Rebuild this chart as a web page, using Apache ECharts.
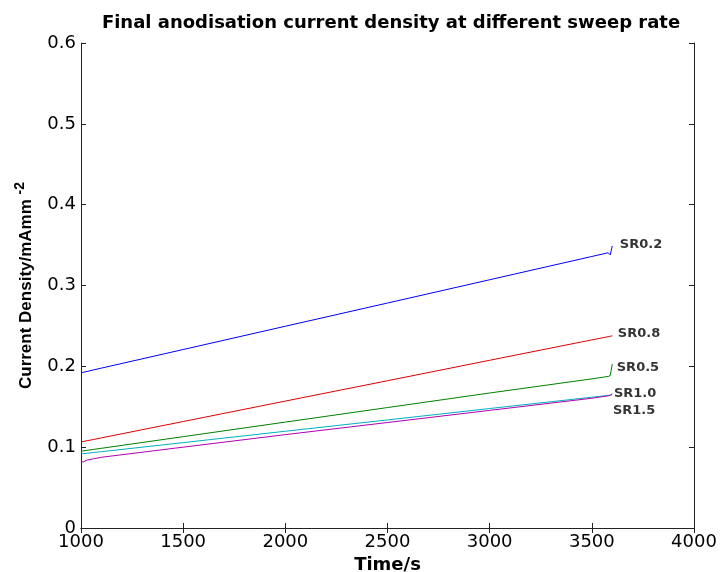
<!DOCTYPE html>
<html>
<head>
<meta charset="utf-8">
<script src="https://cdn.jsdelivr.net/npm/echarts@6/dist/echarts.min.js"></script>
<style>
    html, body { margin: 0; padding: 0; background: #fff; }
    #chart { width: 721px; height: 572px; }
</style>
</head>
<body>
<div id="chart"></div>
<script>
// sample times (s)
var times = [1000, 1010, 1030, 1060, 1100, 1500, 2000, 2500, 3000, 3500, 3580, 3590, 3600];

// current density (mA/mm^2) per sweep rate
var sr02 = [0.192, 0.1926, 0.1937, 0.1955, 0.1978, 0.2208, 0.2496, 0.2783, 0.3071, 0.3359, 0.3405, 0.3378, 0.349];
var sr08 = [0.1064, 0.107, 0.108, 0.1094, 0.1115, 0.1317, 0.157, 0.1822, 0.2075, 0.2327, 0.2367, 0.2372, 0.2378];
var sr05 = [0.095, 0.0954, 0.0961, 0.0972, 0.0986, 0.113, 0.131, 0.149, 0.167, 0.1845, 0.1875, 0.1885, 0.203];
var sr10 = [0.0916, 0.0919, 0.0924, 0.0933, 0.0944, 0.1056, 0.1197, 0.1337, 0.1478, 0.1618, 0.164, 0.1643, 0.1648];
var sr15 = [0.083, 0.0815, 0.084, 0.0855, 0.0875, 0.1, 0.1155, 0.1305, 0.1455, 0.1605, 0.1635, 0.1642, 0.166];

// end labels
var labelNames = ['SR0.2', 'SR0.8', 'SR0.5', 'SR1.0', 'SR1.5'];
var labelTimes = [3637, 3627, 3622, 3608, 3603];
var labelValues = [0.350, 0.241, 0.198, 0.166, 0.145];

var xTicks = [1000, 1500, 2000, 2500, 3000, 3500, 4000];
var yTicks = [0, 0.1, 0.2, 0.3, 0.4, 0.5, 0.6];

function pairs(vals) {
    return times.map(function (t, i) { return [t, vals[i]]; });
}

var chart = echarts.init(document.getElementById('chart'));

function line(name, color, vals) {
    return {
        name: name,
        type: 'line',
        data: pairs(vals),
        symbol: 'none',
        lineStyle: { color: color, width: 1 },
        itemStyle: { color: color },
        animation: false,
        z: 3
    };
}

var axisText = { fontFamily: 'DejaVu Sans', fontSize: 18, color: '#000' };
var axisColor = '#222';

var option = {
    backgroundColor: '#fff',
    title: {
        text: 'Final anodisation current density at different sweep rate',
        left: 386,
        textAlign: 'center',
        top: 9,
        textStyle: { fontFamily: 'DejaVu Sans', fontWeight: 'bold', fontSize: 18, color: '#000' }
    },
    grid: { left: 81, right: 27, top: 43, bottom: 44, outerBoundsMode: 'none', containLabel: false },
    xAxis: [
        {
            type: 'value',
            min: xTicks[0],
            max: xTicks[xTicks.length - 1],
            interval: 500,
            name: 'Time/s',
            nameLocation: 'middle',
            nameGap: 21,
            nameTextStyle: { fontFamily: 'DejaVu Sans', fontWeight: 'bold', fontSize: 18, color: '#000' },
            axisLine: { lineStyle: { color: axisColor, width: 1 } },
            axisTick: { inside: true, length: 5, lineStyle: { color: axisColor } },
            axisLabel: Object.assign({ margin: 5, formatter: function (v) { return String(v); } }, axisText),
            splitLine: { show: false }
        },
        {
            type: 'value',
            position: 'top',
            min: xTicks[0],
            max: xTicks[xTicks.length - 1],
            interval: 500,
            axisLine: { show: true, lineStyle: { color: axisColor, width: 1 } },
            axisTick: { inside: true, length: 5, lineStyle: { color: axisColor } },
            axisLabel: { show: false },
            splitLine: { show: false }
        }
    ],
    yAxis: [
        {
            type: 'value',
            min: yTicks[0],
            max: yTicks[yTicks.length - 1],
            interval: 0.1,
            name: '{a|Current Density/mAmm }{s|-2}',
            nameLocation: 'middle',
            nameRotate: 90,
            nameGap: 42,
            nameTextStyle: {
                rich: {
                    a: { fontFamily: 'Liberation Sans', fontWeight: 'bold', fontSize: 17, color: '#000', lineHeight: 20 },
                    s: { fontFamily: 'Liberation Sans', fontWeight: 'bold', fontSize: 14, color: '#000', padding: [0, 0, 12, 0] }
                }
            },
            axisLine: { show: true, lineStyle: { color: axisColor, width: 1 } },
            axisTick: { show: true, inside: true, length: 5, lineStyle: { color: axisColor } },
            axisLabel: Object.assign({ margin: 5, formatter: function (v) { return v === 0 ? '0' : v.toFixed(1); } }, axisText),
            splitLine: { show: false }
        },
        {
            type: 'value',
            position: 'right',
            min: yTicks[0],
            max: yTicks[yTicks.length - 1],
            interval: 0.1,
            axisLine: { show: true, lineStyle: { color: axisColor, width: 1 } },
            axisTick: { show: true, inside: true, length: 5, lineStyle: { color: axisColor } },
            axisLabel: { show: false },
            splitLine: { show: false }
        }
    ],
    series: [
        line('SR0.2', '#0000ff', sr02),
        line('SR0.8', '#e00000', sr08),
        line('SR0.5', '#008000', sr05),
        line('SR1.0', '#00b0c0', sr10),
        line('SR1.5', '#b000b0', sr15),
        {
            name: 'labels',
            type: 'scatter',
            symbolSize: 0,
            silent: true,
            animation: false,
            data: labelNames.map(function (n, i) {
                return { value: [labelTimes[i], labelValues[i]], name: n };
            }),
            label: {
                show: true,
                position: 'right',
                distance: 0,
                formatter: '{b}',
                color: '#000',
                fontFamily: 'DejaVu Sans',
                fontWeight: 'bold',
                fontSize: 13
            },
            z: 5
        }
    ]
};

chart.setOption(option);
window.addEventListener('resize', function () {
    chart.resize();
});
</script>
</body>
</html>
